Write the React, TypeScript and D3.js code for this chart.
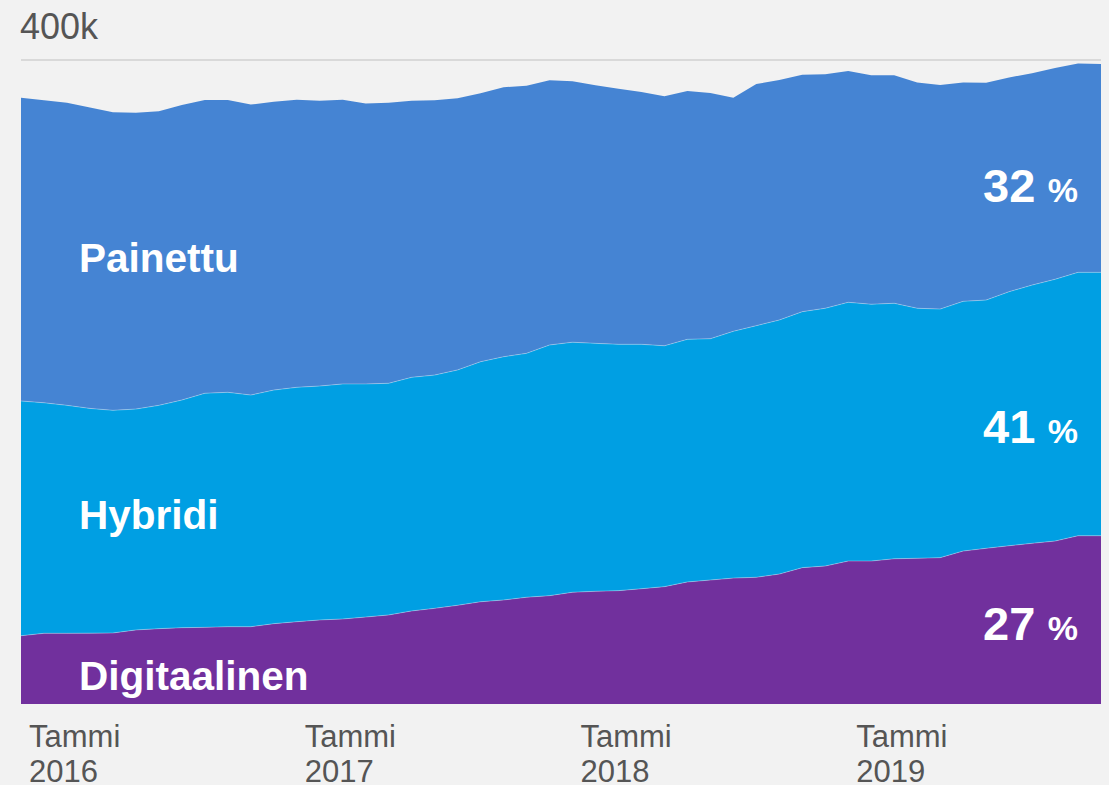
import React, { useRef, useEffect } from "react";
import * as d3 from "d3";

// kuukaudet tammi 2016 - joulu 2019
const months = d3.range(48).map((i) => `${2016 + Math.floor(i / 12)}-${(i % 12) + 1}`);

// tuhansia tilaajia
const digitaalinen = [
  42.4, 43.9, 43.9, 44.0, 44.1, 46.0, 46.8, 47.4, 47.6, 48.0, 48.0, 49.9,
  51.1, 52.2, 52.8, 54.0, 55.3, 57.8, 59.4, 61.3, 63.5, 64.6, 66.3, 67.3,
  69.4, 70.0, 70.4, 71.6, 72.9, 75.8, 77.0, 78.2, 78.7, 80.7, 84.7, 85.7,
  88.8, 88.8, 90.2, 90.5, 90.9, 95.0, 96.7, 98.3, 99.8, 101.2, 104.5, 104.5,
];
const hybridi = [
  145.8, 143.2, 141.6, 139.6, 138.3, 137.2, 138.7, 141.4, 145.4, 145.6, 143.9, 145.1,
  145.6, 145.3, 146.0, 144.8, 143.9, 145.1, 144.9, 146.2, 149.1, 151.1, 151.5, 155.7,
  155.3, 154.0, 153.0, 151.8, 149.6, 150.7, 149.9, 153.3, 156.3, 157.8, 159.0, 160.1,
  160.7, 159.5, 158.7, 155.3, 154.4, 155.1, 154.2, 157.8, 160.4, 162.6, 163.6, 163.6,
];
const painettu = [
  188.4, 187.9, 188.0, 186.9, 185.1, 184.1, 182.6, 183.2, 182.2, 181.6, 180.4, 179.1,
  178.6, 177.2, 176.5, 174.2, 174.3, 171.8, 170.7, 168.7, 166.7, 167.4, 166.2, 164.4,
  162.1, 160.3, 158.8, 156.7, 155.0, 154.2, 152.6, 145.1, 150.1, 149.1, 147.2, 145.3,
  143.7, 142.2, 141.6, 140.3, 139.2, 136.0, 135.0, 133.1, 131.5, 131.2, 129.8, 129.4,
];

const seriesKeys = ["digitaalinen", "hybridi", "painettu"];
const seriesNames = ["Digitaalinen", "Hybridi", "Painettu"];
const seriesColors = ["#71309d", "#009fe3", "#4584d3"];
const shares = ["27", "41", "32"];

const tickMonths = ["2016-1", "2017-1", "2018-1", "2019-1"];
const tickYears = ["2016", "2017", "2018", "2019"];

function App() {
  const ref = useRef(null);

  useEffect(() => {
    draw();
  }, []);

  const draw = () => {
    const svg = d3.select(ref.current);
    svg.selectAll("*").remove();

    const width = 1109;
    const height = 785;
    const margin = { top: 60, right: 8, bottom: 81, left: 21 };

    const table = months.map((m, i) => ({
      month: m,
      digitaalinen: digitaalinen[i],
      hybridi: hybridi[i],
      painettu: painettu[i],
    }));

    const x = d3.scalePoint().domain(months).range([margin.left, width - margin.right]);
    const y = d3.scaleLinear().domain([0, 400]).range([height - margin.bottom, margin.top]);

    const stacked = d3.stack().keys(seriesKeys)(table);

    svg.append("rect").attr("width", width).attr("height", height).attr("fill", "#f2f2f2");

    // 400k viiva
    svg.append("line")
      .attr("x1", margin.left)
      .attr("x2", width - margin.right)
      .attr("y1", y(400))
      .attr("y2", y(400))
      .attr("stroke", "#d9d9d9")
      .attr("stroke-width", 2);

    svg.append("text")
      .text("400k")
      .attr("x", 20)
      .attr("y", 39)
      .attr("font-family", "Liberation Sans, Arial, sans-serif")
      .attr("font-size", "36px")
      .attr("fill", "#555555");

    const area = d3.area()
      .x((d) => x(d.data.month))
      .y0((d) => y(d[0]))
      .y1((d) => y(d[1]));

    const topLine = d3.line()
      .x((d) => x(d.data.month))
      .y((d) => y(d[1]));

    svg.selectAll(".layer")
      .data(stacked)
      .enter()
      .append("path")
      .attr("class", "layer")
      .attr("d", area)
      .attr("fill", (d, i) => seriesColors[i]);

    svg.selectAll(".edge")
      .data(stacked.slice(0, 2))
      .enter()
      .append("path")
      .attr("class", "edge")
      .attr("d", topLine)
      .attr("fill", "none")
      .attr("stroke", "#ffffff")
      .attr("stroke-opacity", 0.3)
      .attr("stroke-width", 1);

    // x-akselin tekstit
    const ticks = svg.append("g")
      .attr("font-family", "Liberation Sans, Arial, sans-serif")
      .attr("font-size", "31px")
      .attr("fill", "#555555");
    tickMonths.forEach((m, i) => {
      const t = ticks.append("text").attr("x", x(m) + 8).attr("y", 747);
      t.append("tspan").attr("x", x(m) + 8).text("Tammi");
      t.append("tspan").attr("x", x(m) + 8).attr("dy", 35).text(tickYears[i]);
    });

    // sarjojen nimet
    const nameY = [690, 529, 272];
    seriesNames.forEach((n, i) => {
      svg.append("text")
        .text(n)
        .attr("x", 79)
        .attr("y", nameY[i])
        .attr("font-family", "Liberation Sans, Arial, sans-serif")
        .attr("font-weight", "bold")
        .attr("font-size", "40.5px")
        .attr("fill", "#ffffff");
    });

    // osuudet
    const shareY = [640, 443, 202];
    shares.forEach((s, i) => {
      const t = svg.append("text")
        .attr("x", 1078)
        .attr("y", shareY[i])
        .attr("text-anchor", "end")
        .attr("font-family", "Liberation Sans, Arial, sans-serif")
        .attr("font-weight", "bold")
        .attr("fill", "#ffffff");
      t.append("tspan").attr("font-size", "47px").text(s);
      t.append("tspan").attr("font-size", "34px").attr("dx", 3).text(" %");
    });
  };

  return (
    <div className="chart" style={{ position: "absolute", left: 0, top: 0 }}>
      <svg ref={ref} width={1109} height={785} style={{ display: "block" }}></svg>
    </div>
  );
}

export default App;
